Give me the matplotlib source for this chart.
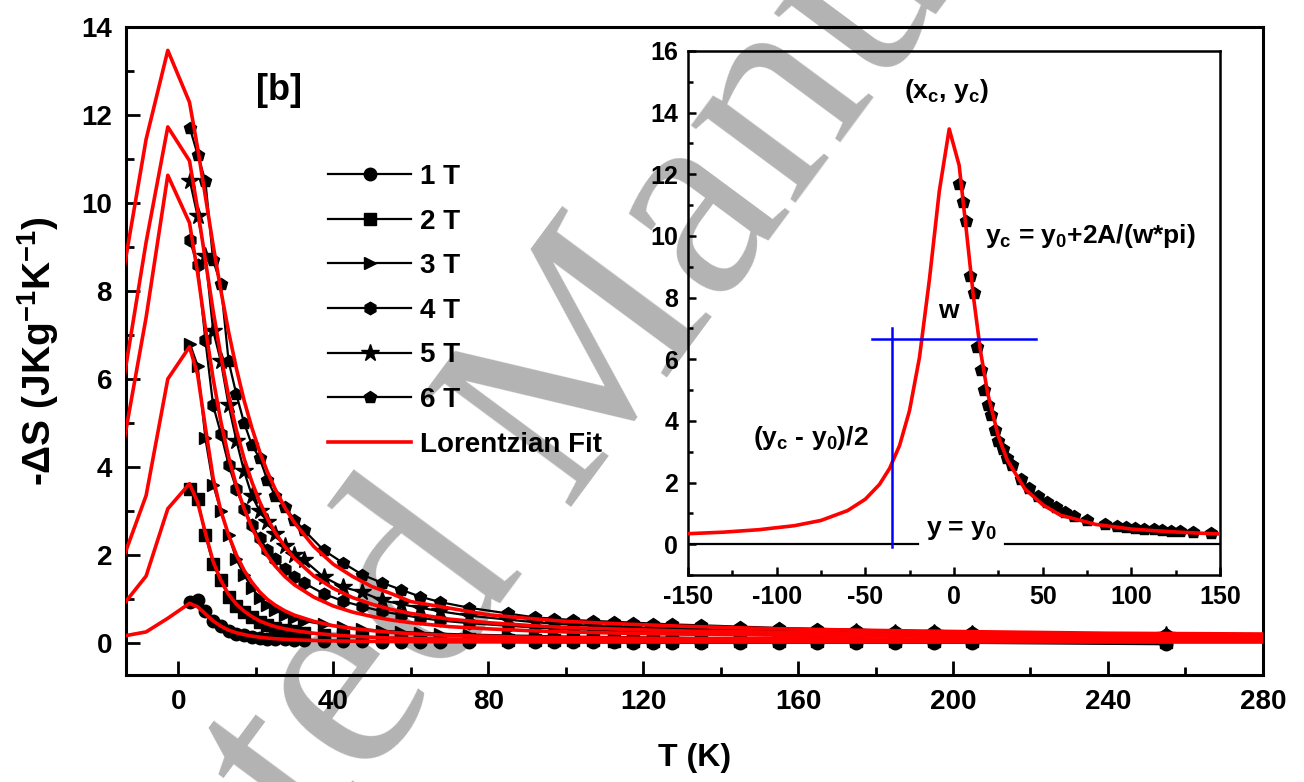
import numpy as np
import matplotlib
matplotlib.use("Agg")
import matplotlib.pyplot as plt
from matplotlib.ticker import MultipleLocator

plt.rcParams['font.family'] = ['Liberation Sans', 'DejaVu Sans']
plt.rcParams['font.weight'] = 'bold'
plt.rcParams['axes.labelweight'] = 'bold'
plt.rcParams['axes.unicode_minus'] = False
plt.rcParams['mathtext.fontset'] = 'custom'
plt.rcParams['mathtext.rm'] = 'Liberation Sans:bold'
plt.rcParams['mathtext.it'] = 'Liberation Sans:bold'
plt.rcParams['mathtext.bf'] = 'Liberation Sans:bold'
plt.rcParams['mathtext.default'] = 'bf'

# measured data, -dS vs T
T_data = [3, 5, 7, 9, 11, 13, 15, 17, 19, 21, 23, 25, 27.5, 30, 32.5, 37.5, 42.5, 47.5,
          52.5, 57.5, 62.5, 67.5, 75, 85, 92, 97, 102, 107, 112.5, 117.5, 122.5, 127.5,
          135, 145, 155, 165, 175, 185, 195, 205, 255]
dS_1T = [0.93, 0.97, 0.72, 0.50, 0.38, 0.28, 0.21, 0.17, 0.14, 0.12, 0.10, 0.09, 0.08, 0.07,
         0.06, 0.05, 0.04, 0.04, 0.03, 0.03, 0.03, 0.02, 0.02, 0.02, 0.01, 0.01, 0.01, 0.01,
         0.01, 0.0, 0.0, 0.0, 0.0, 0.0, 0.0, 0.0, 0.0, 0.0, 0.0, 0.0, -0.03]
dS_2T = [3.51, 3.28, 2.45, 1.80, 1.42, 1.05, 0.85, 0.70, 0.58, 0.48, 0.41, 0.35, 0.30, 0.26,
         0.23, 0.19, 0.16, 0.14, 0.12, 0.11, 0.10, 0.09, 0.08, 0.07, 0.07, 0.06, 0.06, 0.06,
         0.05, 0.05, 0.05, 0.05, 0.05, 0.04, 0.04, 0.04, 0.04, 0.04, 0.04, 0.04, 0.03]
dS_3T = [6.8, 6.3, 4.65, 3.6, 3.0, 2.45, 1.9, 1.55, 1.25, 1.02, 0.86, 0.74, 0.64, 0.56, 0.50,
         0.42, 0.36, 0.31, 0.28, 0.25, 0.23, 0.21, 0.19, 0.17, 0.16, 0.15, 0.14, 0.14, 0.13,
         0.13, 0.12, 0.12, 0.11, 0.11, 0.10, 0.10, 0.10, 0.09, 0.09, 0.09, 0.08]
dS_4T = [9.15, 8.58, 6.88, 5.4, 4.76, 4.05, 3.5, 3.05, 2.68, 2.38, 2.12, 1.9, 1.68, 1.5, 1.36,
         1.12, 0.95, 0.83, 0.72, 0.64, 0.57, 0.51, 0.45, 0.39, 0.35, 0.33, 0.31, 0.30, 0.28,
         0.27, 0.26, 0.25, 0.24, 0.22, 0.21, 0.20, 0.19, 0.18, 0.17, 0.16, 0.13]
dS_5T = [10.5, 9.7, 8.8, 7.1, 6.4, 5.4, 4.6, 3.9, 3.35, 3.0, 2.75, 2.48, 2.2, 2.0, 1.88, 1.5,
         1.27, 1.15, 0.97, 0.88, 0.80, 0.72, 0.62, 0.53, 0.47, 0.44, 0.41, 0.39, 0.37, 0.35,
         0.34, 0.33, 0.31, 0.29, 0.27, 0.25, 0.24, 0.23, 0.22, 0.21, 0.17]
dS_6T = [11.7, 11.1, 10.5, 8.7, 8.15, 6.4, 5.65, 5.0, 4.5, 4.2, 3.7, 3.35, 3.1, 2.8, 2.56,
         2.11, 1.82, 1.55, 1.37, 1.21, 1.05, 0.93, 0.80, 0.67, 0.58, 0.55, 0.52, 0.50, 0.48,
         0.46, 0.44, 0.42, 0.40, 0.37, 0.34, 0.32, 0.30, 0.28, 0.26, 0.25, 0.20]

# Lorentzian fit curves
T_fit = [-13.9, -8.3, -2.7, 2.9, 5, 7, 9, 11, 13, 15, 17, 19, 21, 23, 25, 27.5, 30, 35, 40,
         45, 50, 55, 60, 70, 80, 90, 100, 115, 130, 150, 175, 200, 240, 285]
fit_1T = [0.16, 0.25, 0.56, 0.90, 0.82, 0.66, 0.50, 0.38, 0.29, 0.23, 0.19, 0.155, 0.13, 0.11,
          0.095, 0.082, 0.07, 0.055, 0.045, 0.04, 0.035, 0.032, 0.03, 0.027, 0.025, 0.024,
          0.023, 0.022, 0.021, 0.02, 0.02, 0.02, 0.02, 0.02]
fit_2T = [0.90, 1.52, 3.05, 3.62, 3.20, 2.50, 1.85, 1.42, 1.10, 0.88, 0.72, 0.60, 0.50, 0.43,
          0.37, 0.32, 0.28, 0.22, 0.18, 0.15, 0.13, 0.11, 0.10, 0.085, 0.075, 0.068, 0.062,
          0.057, 0.053, 0.05, 0.047, 0.045, 0.043, 0.042]
fit_3T = [2.00, 3.35, 6.00, 6.73, 6.10, 4.90, 3.75, 3.00, 2.45, 2.00, 1.65, 1.38, 1.16, 0.99,
          0.86, 0.73, 0.63, 0.49, 0.39, 0.33, 0.28, 0.24, 0.21, 0.17, 0.15, 0.13, 0.12, 0.11,
          0.10, 0.095, 0.09, 0.085, 0.08, 0.08]
fit_4T = [4.65, 7.40, 10.63, 9.55, 8.41, 7.16, 6.01, 5.03, 4.23, 3.57, 3.05, 2.62, 2.27, 1.99,
          1.75, 1.51, 1.32, 1.04, 0.84, 0.70, 0.60, 0.52, 0.46, 0.37, 0.32, 0.28, 0.25, 0.22,
          0.20, 0.18, 0.16, 0.15, 0.14, 0.14]
fit_5T = [6.09, 9.11, 11.73, 10.96, 9.86, 8.70, 7.55, 6.52, 5.61, 4.84, 4.19, 3.66, 3.21, 2.83,
          2.51, 2.19, 1.92, 1.52, 1.24, 1.03, 0.88, 0.76, 0.67, 0.54, 0.46, 0.40, 0.35, 0.31,
          0.27, 0.25, 0.22, 0.21, 0.19, 0.18]
fit_6T = [8.57, 11.45, 13.47, 12.29, 11.25, 10.15, 9.04, 8.01, 7.07, 6.24, 5.51, 4.89, 4.35,
          3.89, 3.50, 3.08, 2.73, 2.19, 1.79, 1.51, 1.28, 1.12, 0.94, 0.79, 0.64, 0.56, 0.49,
          0.43, 0.38, 0.33, 0.29, 0.26, 0.22, 0.20]

# inset: 6 T fit over the full range
T_inset_fit = [-150, -130, -110, -90, -75, -60, -50, -42, -36.3, -30.7, -25.1, -19.5, -13.9,
               -8.3, -2.7, 2.9, 7, 11, 15, 19, 25, 30, 40, 50, 60, 70, 80, 100, 115, 130, 150]
inset_fit = [0.34, 0.39, 0.47, 0.60, 0.77, 1.09, 1.46, 1.94, 2.46, 3.20, 4.33, 6.05, 8.57,
             11.45, 13.47, 12.29, 10.15, 8.01, 6.24, 4.89, 3.50, 2.73, 1.79, 1.28, 0.94, 0.79,
             0.64, 0.49, 0.43, 0.38, 0.33]
w_x = [-46, 46.5]          # half-maximum width line
w_y = 6.65
half_x = -35               # (yc - y0)/2 marker line
half_y = [-0.1, 7.0]
base_left = [-150, -20.5]  # y = y0 line, split around its label
base_right = [29, 150]

labels = ['1 T', '2 T', '3 T', '4 T', '5 T', '6 T']
markers = ['o', 's', '>', 'h', '*', 'p']
data = [dS_1T, dS_2T, dS_3T, dS_4T, dS_5T, dS_6T]
fits = [fit_1T, fit_2T, fit_3T, fit_4T, fit_5T, fit_6T]

fig = plt.figure(figsize=(13.04, 7.82), dpi=100)

# watermark behind everything
fig.text(0.427, 0.473, 'Accepted Manuscript', fontsize=205, family='Liberation Serif',
         weight='normal', color='#b3b3b3', rotation=53.5, ha='center', va='center',
         rotation_mode='anchor', zorder=-1)

ax = fig.add_axes([0.0966, 0.1368, 0.8719, 0.8286])
ax.set_facecolor('none')

for lab, m, vals in zip(labels, markers, data):
    ms = 13 if m == '*' else 9
    ax.plot(T_data, vals, color='k', lw=1.6, marker=m, ms=ms, label=lab, zorder=3)
for i, f in enumerate(fits):
    ax.plot(T_fit, f, color='#ff0000', lw=2.6, zorder=4,
            label='Lorentzian Fit' if i == 0 else None)

ax.set_xlim(-13.5, 280)
ax.set_ylim(-0.73, 14)
ax.xaxis.set_major_locator(MultipleLocator(40))
ax.xaxis.set_minor_locator(MultipleLocator(20))
ax.yaxis.set_major_locator(MultipleLocator(2))
ax.yaxis.set_minor_locator(MultipleLocator(1))
ax.tick_params(which='major', direction='in', length=10, width=2, labelsize=20, pad=10,
               top=False, right=False)
ax.tick_params(which='minor', direction='in', length=6, width=2, top=False, right=False)
for s in ax.spines.values():
    s.set_linewidth(2.2)

ax.set_xlabel('T (K)', fontsize=23, fontweight='bold')
ax.set_ylabel(r'-ΔS (JKg$^{-1}$K$^{-1}$)', fontsize=28, fontweight='bold')
ax.xaxis.set_label_coords(0.5, -0.105)
ax.yaxis.set_label_coords(-0.057, 0.5)
ax.text(26, 12.56, '[b]', fontsize=26, ha='center', va='center')

ax.legend(loc='upper left', bbox_to_anchor=(0.2515, 0.7903), bbox_transform=fig.transFigure,
          frameon=False, fontsize=20, handlelength=3.0, handletextpad=0.3, labelspacing=0.67,
          borderpad=0, borderaxespad=0, numpoints=1)

# inset
axin = fig.add_axes([0.5276, 0.2647, 0.408, 0.6701])
axin.set_facecolor('none')
axin.plot(T_data, dS_6T, ls='none', marker='p', ms=9, color='k', zorder=3)
axin.plot(T_inset_fit, inset_fit, color='#ff0000', lw=2.6, zorder=4)
axin.plot(w_x, [w_y, w_y], color='#0000ff', lw=1.8, zorder=5)
axin.plot([half_x, half_x], half_y, color='#0000ff', lw=1.8, zorder=5)
axin.plot(base_left, [0, 0], color='k', lw=1.6, zorder=2)
axin.plot(base_right, [0, 0], color='k', lw=1.6, zorder=2)

axin.set_xlim(-150, 150)
axin.set_ylim(-1, 16)
axin.xaxis.set_major_locator(MultipleLocator(50))
axin.xaxis.set_minor_locator(MultipleLocator(25))
axin.yaxis.set_major_locator(MultipleLocator(2))
axin.yaxis.set_minor_locator(MultipleLocator(1))
axin.tick_params(which='major', direction='in', length=6, width=1.8, labelsize=18, pad=7,
                 top=False, right=False)
axin.tick_params(which='minor', direction='in', length=3.5, width=1.8, top=False, right=False)
for s in axin.spines.values():
    s.set_linewidth(1.8)

axin.text(-4.5, 14.7, r'(x$_c$, y$_c$)', fontsize=19, ha='center', va='center')
axin.text(-3, 7.55, 'w', fontsize=19, ha='center', va='center')
axin.text(17.3, 10.0, r'y$_c$ = y$_0$+2A/(w*pi)', fontsize=19, ha='left', va='center')
axin.text(-113.5, 3.45, r'(y$_c$ - y$_0$)/2', fontsize=19, ha='left', va='center')
axin.text(4, 0.45, r'y = y$_0$', fontsize=19, ha='center', va='center')

fig.savefig('out.png', dpi=100)
